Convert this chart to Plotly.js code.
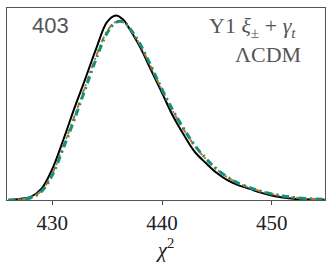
<!DOCTYPE html>
<html><head><meta charset="utf-8">
<script src="https://cdn.plot.ly/plotly-3.0.1.min.js"></script>
<style>html,body{margin:0;padding:0;background:#fff}</style>
</head><body><div id="chart" style="width:333px;height:264px"></div>
<script>
const chi = [426,427,428,429,430,431,432,433,434,435,435.8,436.5,437,438,439,440,441,442,443,444,445,446,447,448,449,450,451,452,453,454,455];
const blackVals  = [0,0.0006,0.0016,0.006,0.0168,0.0325,0.0495,0.0655,0.082,0.0965,0.1,0.0975,0.093,0.0828,0.0704,0.058,0.0455,0.0352,0.026,0.02,0.0146,0.0106,0.0079,0.006,0.004,0.0024,0.0014,0.0007,0.0004,0.0002,0.0001];
const greenVals  = [0,0.0003,0.0011,0.0045,0.0135,0.028,0.0435,0.060,0.0765,0.0905,0.0962,0.0966,0.0935,0.0845,0.0725,0.060,0.0485,0.0385,0.0295,0.0225,0.0167,0.0123,0.009,0.0067,0.0048,0.0033,0.0022,0.0014,0.0008,0.0005,0.0003];
const orangeVals = [0,0.0004,0.0013,0.005,0.0143,0.0292,0.045,0.0615,0.078,0.0915,0.0965,0.0962,0.0932,0.084,0.072,0.0595,0.048,0.038,0.0292,0.0222,0.0165,0.0122,0.0089,0.0066,0.0047,0.0032,0.0021,0.0013,0.0008,0.0005,0.0003];
const xTicks = [430,440,450];

const traces = [
  {x: chi, y: blackVals, mode:'lines', line:{color:'#000', width:2, shape:'spline'}},
  {x: chi, y: orangeVals, mode:'lines', line:{color:'#c4702a', width:2, dash:'6px,3px,2px,3px', shape:'spline'}},
  {x: chi, y: greenVals, mode:'lines', line:{color:'#13917a', width:3, dash:'7px,4px,2px,4px', shape:'spline'}}
];
const layout = {
  width:333, height:264, showlegend:false,
  paper_bgcolor:'#fff', plot_bgcolor:'#fff',
  margin:{l:7, r:8, t:8, b:64},
  font:{family:'Liberation Serif, serif', color:'#222'},
  xaxis:{range:[425.87,454.86], tickvals:xTicks, ticktext:xTicks.map(String), ticks:'outside', ticklen:4, tickcolor:'#444',
    showline:true, mirror:true, linecolor:'#555', linewidth:1, showgrid:false, zeroline:false,
    tickfont:{family:'Liberation Serif, serif', size:21, color:'#222'},
    title:{text:'<i>χ</i><sup>2</sup>', font:{family:'Liberation Serif, serif', size:21, color:'#222'}, standoff:0}},
  yaxis:{range:[0,0.104], showticklabels:false, ticks:'', showline:true, mirror:true, linecolor:'#555', linewidth:1, showgrid:false, zeroline:false},
  annotations:[
    {xref:'paper', yref:'paper', x:0.072, y:0.91, xanchor:'left', yanchor:'middle', showarrow:false, text:'403',
      font:{family:'Liberation Sans, sans-serif', size:22, color:'#555'}},
    {xref:'paper', yref:'paper', x:0.93, y:0.985, xanchor:'right', yanchor:'top', align:'right', showarrow:false,
      text:'Y1 <i>ξ</i><sub>±</sub> + <i>γ</i><sub><i>t</i></sub>&nbsp;<br>ΛCDM',
      font:{family:'Liberation Serif, serif', size:22, color:'#555'}}
  ]
};
Plotly.newPlot('chart', traces, layout, {displayModeBar:false, staticPlot:true});
</script></body></html>
